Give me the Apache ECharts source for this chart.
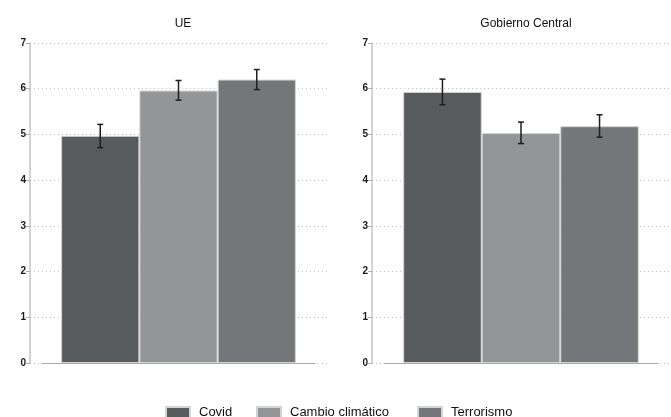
<!DOCTYPE html>
<html><head><meta charset="utf-8">
<script src="https://cdn.jsdelivr.net/npm/echarts@6/dist/echarts.min.js"></script>
<style>html,body{margin:0;padding:0;background:#fff}#c{width:671px;height:417px}</style>
</head><body><div id="c"></div>
<script>
var panels = ['UE', 'Gobierno Central'];
var seriesNames = ['Covid', 'Cambio climático', 'Terrorismo'];
var yTicks = [0, 1, 2, 3, 4, 5, 6, 7];
// values per panel: [Covid, Cambio climático, Terrorismo]
var meansUE = [4.97, 5.96, 6.20];
var lowUE = [4.71, 5.75, 5.98];
var highUE = [5.22, 6.18, 6.42];
var meansGC = [5.93, 5.03, 5.18];
var lowGC = [5.65, 4.80, 4.94];
var highGC = [6.21, 5.27, 5.43];

var colors = ['#585b5c', '#949597', '#747679'];
var gapPct = 0.14;
var ff = 'Liberation Sans, Arial, Helvetica, sans-serif';

var chart = echarts.init(document.getElementById('c'));

function errRender(idx) {
  return function (params, api) {
    var base = api.coord([api.value(0), 0]);
    var band = api.size([1, 0])[0];
    var bw = band * (1 - gapPct) / 3;
    var cx = base[0] + (idx - 1) * bw;
    var yt = api.coord([api.value(0), api.value(2)])[1];
    var yb = api.coord([api.value(0), api.value(1)])[1];
    var st = { stroke: '#1e1e1e', lineWidth: 1.5 };
    var cap = 3;
    return { type: 'group', children: [
      { type: 'line', shape: { x1: cx, y1: yt, x2: cx, y2: yb }, style: st },
      { type: 'line', shape: { x1: cx - cap, y1: yt, x2: cx + cap, y2: yt }, style: st },
      { type: 'line', shape: { x1: cx - cap, y1: yb, x2: cx + cap, y2: yb }, style: st }
    ]};
  };
}

var grids = [
  { left: 30, top: 43, width: 298, height: 320 },
  { left: 42, top: 43, width: 273, height: 320 },
  { left: 372, top: 43, width: 298, height: 320 },
  { left: 384, top: 43, width: 274, height: 320 }
];

var xAxes = [], yAxes = [], series = [];
[0, 1].forEach(function (p) {
  var ga = p * 2, gb = p * 2 + 1;
  xAxes.push({ gridIndex: ga, type: 'value', show: false, min: 0, max: 1 });
  yAxes.push({
    gridIndex: ga, type: 'value', min: yTicks[0], max: yTicks[yTicks.length - 1], interval: 1,
    axisLine: { show: true, lineStyle: { color: '#c4c4c4', width: 1.5 } },
    axisTick: { show: true, length: 4, lineStyle: { color: '#b0b0b0', width: 1 } },
    axisLabel: { color: '#1a1a1a', fontSize: 10, fontWeight: 'bold', fontFamily: ff, margin: 4 },
    splitLine: { show: true, lineStyle: { color: '#c0c0c0', type: [1, 3], width: 1 } }
  });
  xAxes.push({
    gridIndex: gb, type: 'category', data: [panels[p]],
    axisLine: { show: true, lineStyle: { color: '#a8a8a8', width: 1 } },
    axisTick: { show: false }, axisLabel: { show: false }, splitLine: { show: false }
  });
  yAxes.push({ gridIndex: gb, type: 'value', min: 0, max: 7, show: false, splitLine: { show: false } });
  var means = p === 0 ? meansUE : meansGC;
  var lows = p === 0 ? lowUE : lowGC;
  var highs = p === 0 ? highUE : highGC;
  seriesNames.forEach(function (n, i) {
    series.push({
      name: n, type: 'bar', xAxisIndex: gb, yAxisIndex: gb,
      barGap: '0%', barCategoryGap: (gapPct * 100) + '%',
      itemStyle: { color: colors[i], borderColor: '#d4d4d4', borderWidth: 1 },
      data: [means[i]], silent: true, z: 2
    });
  });
  seriesNames.forEach(function (n, i) {
    series.push({
      type: 'custom', xAxisIndex: gb, yAxisIndex: gb,
      renderItem: errRender(i), data: [[0, lows[i], highs[i]]], z: 5, silent: true
    });
  });
});

var legendLefts = [165, 256, 417];
var legends = seriesNames.map(function (n, i) {
  return {
    data: [n], left: legendLefts[i], top: 406, padding: 0, itemWidth: 24, itemHeight: 11,
    icon: 'rect', textStyle: { fontSize: 13, color: '#111', fontFamily: ff, padding: [0, 0, 0, 4] }
  };
});

chart.setOption({
  animation: false,
  backgroundColor: '#fff',
  color: colors,
  title: [
    { text: panels[0], left: 178, top: 13, textAlign: 'center', textStyle: { fontSize: 12, fontWeight: 'normal', color: '#111', fontFamily: ff } },
    { text: panels[1], left: 521, top: 13, textAlign: 'center', textStyle: { fontSize: 12, fontWeight: 'normal', color: '#111', fontFamily: ff } }
  ],
  legend: legends,
  grid: grids,
  xAxis: xAxes,
  yAxis: yAxes,
  series: series
});
</script></body></html>
